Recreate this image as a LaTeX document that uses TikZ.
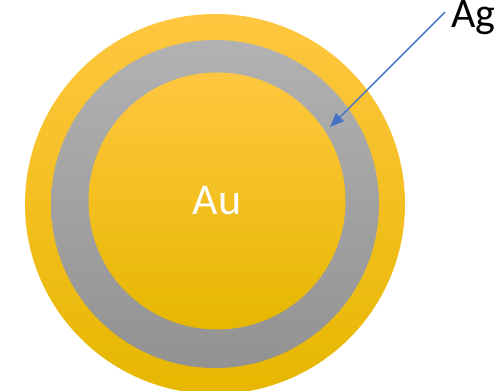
\documentclass[tikz,border=0pt]{standalone}
\usepackage{fontspec}
\setmainfont{Carlito}
\usetikzlibrary{arrows.meta}
\definecolor{goldtop}{RGB}{255,199,64}
\definecolor{goldmid}{RGB}{255,192,0}
\definecolor{goldbot}{RGB}{230,183,0}
\definecolor{greytop}{RGB}{178,178,178}
\definecolor{greybot}{RGB}{146,146,146}
\definecolor{arrowblue}{RGB}{68,114,196}

\begin{document}
\begin{tikzpicture}[x=1pt, y=-1pt,
    every node/.style={inner sep=0pt},
    gold/.style={circle, top color=goldtop, middle color=goldmid, bottom color=goldbot},
    silver/.style={circle, top color=greytop, bottom color=greybot}]
  \useasboundingbox (0,0) rectangle (502,390);
  \clip (0,0) rectangle (502,390);
  % particle layers
  \node[gold, minimum size=380pt] (shell) at (215,204) {};
  \node[silver, minimum size=328pt] (ring) at (215,204) {};
  \node[gold, minimum size=257pt, text=white, font=\fontsize{44}{44}\selectfont] (core) at (217,201) {Au};
  % label
  \node[anchor=base west, font=\fontsize{42}{42}\selectfont] (ag) at (451,28) {Ag};
  \coordinate (tip) at (330,127);
  \draw[arrowblue, line width=1.4pt, -{Triangle[length=14pt,width=11pt]}]
    ([shift={(-6,-6)}]ag.west) -- (tip);
\end{tikzpicture}
\end{document}
